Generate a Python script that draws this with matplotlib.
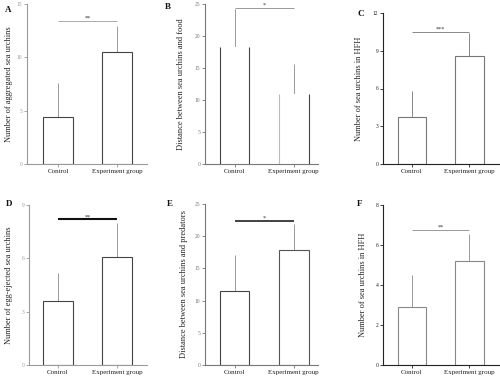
import matplotlib
matplotlib.use("Agg")
import matplotlib.pyplot as plt

plt.rcParams['font.family'] = ['Liberation Serif', 'DejaVu Serif']

groups = ["Control", "Experiment group"]

a_means = [4.4, 10.5]; a_err = [3.2, 2.45]
b_means = [18.3, 11.0]; b_err = [5.9, 4.7]
c_means = [3.7, 8.6]; c_err = [2.1, 1.8]
d_means = [3.6, 6.1]; d_err = [1.6, 1.9]
e_means = [11.5, 17.9]; e_err = [5.6, 4.0]
f_means = [2.9, 5.2]; f_err = [1.6, 1.35]

a_ticks = [0, 5, 10, 15]
b_ticks = [0, 5, 10, 15, 20, 25]
c_ticks = [0, 3, 6, 9, 12]
d_ticks = [0, 3, 6, 9]
e_ticks = [0, 5, 10, 15, 20, 25]
f_ticks = [0, 2, 4, 6, 8]

ylabels = ["Number of aggregated sea urchins",
           "Distance between sea urchins and food",
           "Number of sea urchins in HFH",
           "Number of egg-ejected sea urchins",
           "Distance between sea urchins and predators",
           "Number of sea urchins in HFH"]
letters = ["A", "B", "C", "D", "E", "F"]
sigs = ["**", "*", "***", "**", "*", "**"]
brackets = [13.4, 24.4, 10.5, 8.2, 22.4, 6.75]

W, H = 500, 377
fig = plt.figure(figsize=(5, 3.77), dpi=100)

def axpix(l, r, t, b):
    return fig.add_axes([l / W, (H - b) / H, (r - l) / W, (b - t) / H])

panels = [
    dict(box=(27, 147, 4, 164), xlim=(-0.525, 1.51), means=a_means, err=a_err, ticks=a_ticks,
         spine='#9a9a9a', bar=['#444444', '#444444'], errc='#999999', brc='#aaaaaa', brw=0.7,
         ylx=-0.12, letter=(5, 10), notop=False),
    dict(box=(205, 318, 4, 164), xlim=(-0.50, 1.41), means=b_means, err=b_err, ticks=b_ticks,
         spine='#777777', bar=['#444444', '#bbbbbb'], errc='#999999', brc='#999999', brw=0.7,
         ylx=-0.18, letter=(165, 7), notop=True),
    dict(box=(383, 499, 13, 164), xlim=(-0.505, 1.52), means=c_means, err=c_err, ticks=c_ticks,
         spine='#222222', bar=['#777777', '#777777'], errc='#888888', brc='#888888', brw=0.7,
         ylx=-0.17, letter=(357, 14), notop=False),
    dict(box=(29, 147, 205, 365), xlim=(-0.49, 1.51), means=d_means, err=d_err, ticks=d_ticks,
         spine='#9a9a9a', bar=['#444444', '#444444'], errc='#999999', brc='#111111', brw=1.5,
         ylx=-0.135, letter=(6, 204), notop=False),
    dict(box=(205, 318, 204, 365), xlim=(-0.50, 1.41), means=e_means, err=e_err, ticks=e_ticks,
         spine='#777777', bar=['#444444', '#555555'], errc='#999999', brc='#333333', brw=1.3,
         ylx=-0.15, letter=(167, 204), notop=False),
    dict(box=(383, 499, 205, 365), xlim=(-0.505, 1.52), means=f_means, err=f_err, ticks=f_ticks,
         spine='#222222', bar=['#888888', '#888888'], errc='#999999', brc='#999999', brw=0.7,
         ylx=-0.14, letter=(357, 204), notop=False),
]

x = [0, 1]
for i, p in enumerate(panels):
    ax = axpix(*p['box'])
    ax.set_xlim(*p['xlim'])
    ax.set_ylim(p['ticks'][0], p['ticks'][-1])
    # error bars (upper only)
    ax.errorbar(x, p['means'], yerr=[[0, 0], p['err']], fmt='none',
                ecolor=p['errc'], elinewidth=0.7, capsize=0, zorder=1)
    if p['notop']:
        bars = ax.bar(x, p['means'], width=0.5, color='white', edgecolor='none', zorder=2)
        for bb, c in zip(bars, p['bar']):
            ax.vlines([bb.get_x(), bb.get_x() + bb.get_width()], 0, bb.get_height(),
                      colors=[c, '#444444'], linewidth=0.8, zorder=3)
    else:
        ax.bar(x, p['means'], width=0.5, color='white', edgecolor=p['bar'],
               linewidth=0.8, zorder=2)
    # significance bracket
    ax.plot(x, [brackets[i], brackets[i]], color=p['brc'], lw=p['brw'], zorder=4,
            solid_capstyle='butt')
    ax.text(0.5, brackets[i], sigs[i], ha='center', va='bottom', fontsize=4.5,
            color='#333333')
    ax.set_xticks(x)
    ax.set_xticklabels(groups, fontsize=5)
    ax.set_yticks(p['ticks'])
    ax.set_yticklabels([str(t) for t in p['ticks']], fontsize=4, color='#777777')
    for s in ['top', 'right']:
        ax.spines[s].set_visible(False)
    for s in ['left', 'bottom']:
        ax.spines[s].set_color(p['spine'])
        ax.spines[s].set_linewidth(0.8)
    ax.tick_params(axis='both', length=2, width=0.6, colors=p['spine'], pad=1.5)
    for lab in ax.get_xticklabels():
        lab.set_color('#222222')
    ax.set_ylabel(ylabels[i], fontsize=6, color='#222222')
    ax.yaxis.set_label_coords(p['ylx'], 0.5)
    lx, ly = p['letter']
    fig.text(lx / W, (H - ly) / H, letters[i], fontsize=6.5, fontweight='bold',
             ha='left', va='center', color='#111111')

fig.savefig("out.png", dpi=100, facecolor='white')
